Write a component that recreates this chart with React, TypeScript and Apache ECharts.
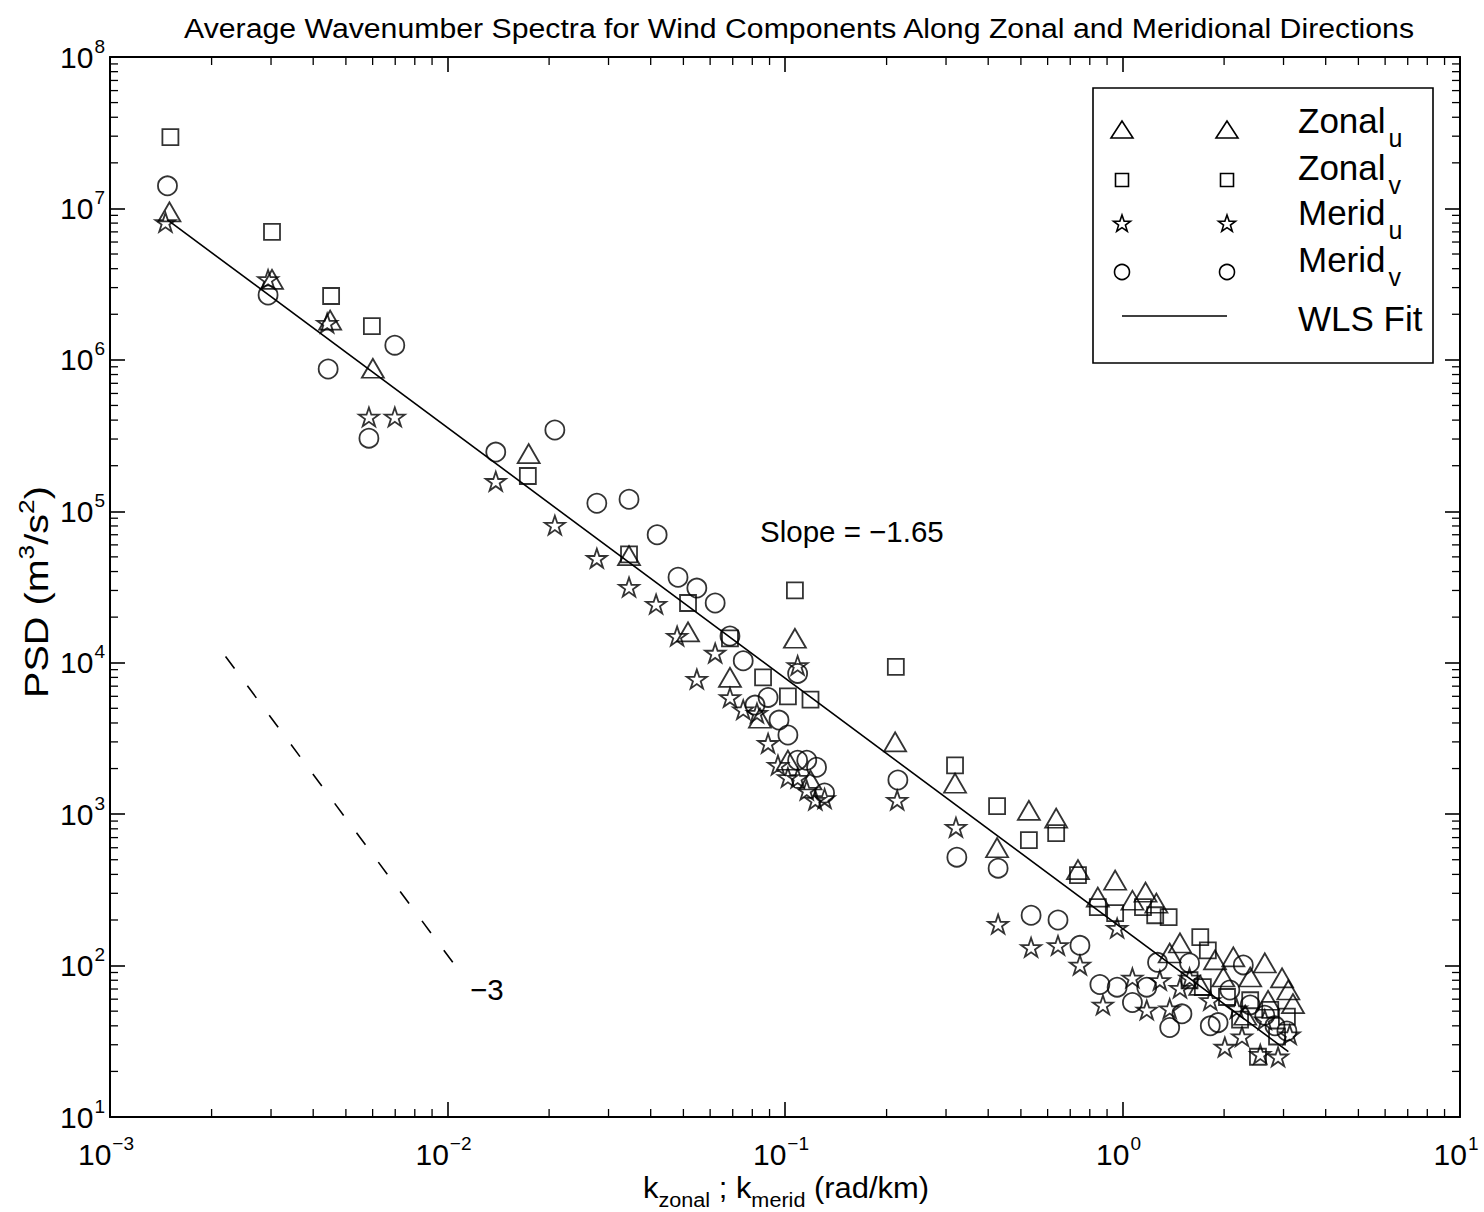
import React, { useEffect, useRef } from 'react';
import * as echarts from 'echarts';

const FONT = "'Liberation Sans', Arial, Helvetica, sans-serif";

// ---- data (k in rad/km, PSD in m^3/s^2) ----
const zonalU: number[][] = [
  [0.0015, 9.5e6], [0.00302, 3.4e6], [0.00449, 1.83e6], [0.00601, 8.8e5], [0.0174, 2.4e5],
  [0.0345, 5.1e4], [0.0516, 1.6e4], [0.0687, 8.0e3], [0.0843, 4.3e3], [0.107, 1.45e4],
  [0.102, 2.27e3], [0.119, 1.68e3], [0.212, 3.0e3], [0.319, 1.6e3], [0.425, 600],
  [0.528, 1060], [0.636, 940], [0.738, 430], [0.845, 283], [0.951, 366],
  [1.07, 270], [1.17, 305], [1.26, 258], [1.38, 121], [1.48, 141],
  [1.7, 74], [1.88, 109], [1.99, 84], [2.13, 114], [2.31, 47],
  [2.39, 84], [2.64, 104], [2.7, 59], [2.97, 83], [3.1, 69], [3.2, 56],
];
const zonalV: number[][] = [
  [0.00151, 2.96e7], [0.00302, 7.0e6], [0.00452, 2.64e6], [0.00597, 1.67e6], [0.0173, 1.71e5],
  [0.0345, 5.2e4], [0.0516, 2.48e4], [0.0687, 1.45e4], [0.0861, 8.0e3], [0.102, 6.0e3],
  [0.119, 5.7e3], [0.107, 3.0e4], [0.213, 9.4e3], [0.319, 2.1e3], [0.425, 1130],
  [0.528, 673], [0.636, 750], [0.738, 396], [0.845, 243], [0.951, 222],
  [1.15, 243], [1.25, 215], [1.37, 209], [1.58, 80], [1.7, 154],
  [1.73, 72], [1.79, 126], [2.04, 62], [2.23, 44], [2.39, 59],
  [2.52, 25], [2.74, 51], [2.87, 34], [3.07, 46],
];
const meridU: number[][] = [
  [0.00146, 8.1e6], [0.00294, 3.4e6], [0.0044, 1.75e6], [0.00585, 4.2e5], [0.00698, 4.2e5],
  [0.0139, 1.58e5], [0.0208, 8.1e4], [0.0277, 4.9e4], [0.0345, 3.16e4], [0.0415, 2.44e4],
  [0.0479, 1.5e4], [0.0548, 7.8e3], [0.0621, 1.16e4], [0.0687, 5.9e3], [0.0752, 4.9e3],
  [0.0826, 4.65e3], [0.0891, 2.94e3], [0.0953, 2.11e3], [0.102, 1.75e3], [0.109, 1.73e3],
  [0.116, 1.44e3], [0.123, 1.24e3], [0.131, 1.27e3], [0.109, 9.6e3], [0.215, 1.24e3],
  [0.321, 820], [0.428, 188], [0.536, 132], [0.644, 136], [0.748, 101],
  [0.875, 55], [0.964, 177], [1.07, 83], [1.18, 51], [1.29, 80],
  [1.38, 52], [1.48, 71], [1.58, 83], [1.82, 59], [2.01, 29],
  [2.18, 52], [2.26, 34], [2.56, 26], [2.64, 44], [2.89, 25], [3.13, 35],
];
const meridV: number[][] = [
  [0.00148, 1.41e7], [0.00294, 2.68e6], [0.00443, 8.7e5], [0.00585, 3.04e5], [0.00698, 1.25e6],
  [0.0139, 2.46e5], [0.0208, 3.44e5], [0.0277, 1.13e5], [0.0345, 1.2e5], [0.0418, 7.0e4],
  [0.0482, 3.67e4], [0.0548, 3.11e4], [0.0621, 2.48e4], [0.0687, 1.5e4], [0.0752, 1.03e4],
  [0.0815, 5.25e3], [0.0891, 5.9e3], [0.096, 4.18e3], [0.102, 3.33e3], [0.109, 2.27e3],
  [0.116, 2.27e3], [0.124, 2.04e3], [0.131, 1.38e3], [0.109, 8.5e3], [0.216, 1.68e3],
  [0.323, 520], [0.428, 440], [0.536, 215], [0.644, 200], [0.748, 136],
  [0.857, 75], [0.964, 72], [1.07, 57], [1.18, 72], [1.27, 105],
  [1.38, 39], [1.5, 48], [1.58, 104], [1.82, 40], [1.92, 42],
  [2.08, 69], [2.28, 101], [2.39, 55], [2.64, 47], [2.83, 40], [3.07, 37],
];
const wlsFit: number[][] = [[0.00148, 8.4e6], [3.1, 27]];
const refSlope: number[][] = [[0.0022, 1.1e4], [0.0104, 104]];

const xDecades = [-3, -2, -1, 0];
const yDecades = [1, 2, 3, 4, 5, 6, 7];
const minorMultipliers = [2, 3, 4, 5, 6, 7, 8, 9];

const titleText = 'Average Wavenumber Spectra for Wind Components Along Zonal and Meridional Directions';
const slopeText = 'Slope = −1.65';
const refSlopeText = '−3';

const STAR_PATH =
  'path://M50,0 L61.8,35.1 L98.9,35.1 L69,56.9 L80.3,91.9 L50,70.3 L19.7,91.9 L31,56.9 L1.1,35.1 L38.2,35.1 Z';

function starPoints(cx: number, cy: number, r: number) {
  const pts: number[][] = [];
  for (let i = 0; i < 10; i++) {
    const a = -Math.PI / 2 + (i * Math.PI) / 5;
    const rr = i % 2 === 0 ? r : r * 0.4;
    pts.push([cx + rr * Math.cos(a), cy + rr * Math.sin(a)]);
  }
  return pts;
}

function expLabel(v: number) {
  const e = Math.round(Math.log10(v));
  const s = e < 0 ? '−' + -e : String(e);
  return `{b|10}{e|${s}}`;
}

const tickRich = {
  b: { fontSize: 30, fontFamily: FONT, color: '#000' },
  e: { fontSize: 19, fontFamily: FONT, color: '#000', padding: [0, 0, 22, 1] },
};

function minorTickSeries(values: number[], dir: 'x' | 'y') {
  return {
    type: 'custom',
    silent: true,
    clip: false,
    z: 5,
    xAxisIndex: 0,
    yAxisIndex: 0,
    data: values.map((v) => (dir === 'x' ? [v, 100] : [0.01, v])),
    encode: { x: 0, y: 1 },
    renderItem: (params: any, api: any) => {
      const cs = params.coordSys;
      const p = api.coord([api.value(0), api.value(1)]);
      const st = { stroke: '#000', lineWidth: 1.3 };
      const L = 8;
      if (dir === 'x') {
        const x = p[0];
        return {
          type: 'group',
          children: [
            { type: 'line', shape: { x1: x, y1: cs.y + cs.height, x2: x, y2: cs.y + cs.height - L }, style: st },
            { type: 'line', shape: { x1: x, y1: cs.y, x2: x, y2: cs.y + L }, style: st },
          ],
        };
      }
      const y = p[1];
      return {
        type: 'group',
        children: [
          { type: 'line', shape: { x1: cs.x, y1: y, x2: cs.x + L, y2: y }, style: st },
          { type: 'line', shape: { x1: cs.x + cs.width, y1: y, x2: cs.x + cs.width - L, y2: y }, style: st },
        ],
      };
    },
  };
}

export default function App() {
  const ref = useRef<HTMLDivElement>(null);
  useEffect(() => {
    if (!ref.current) return;
    document.body.style.margin = '0';
    const chart = echarts.init(ref.current, null, { renderer: 'svg' });

    const xMinor: number[] = [];
    xDecades.forEach((d) => minorMultipliers.forEach((m) => xMinor.push(m * Math.pow(10, d))));
    const yMinor: number[] = [];
    yDecades.forEach((d) => minorMultipliers.forEach((m) => yMinor.push(m * Math.pow(10, d))));

    const axisLine = { show: true, onZero: false, lineStyle: { color: '#000', width: 2 } };
    const axisTick = { show: true, inside: true, length: 15, lineStyle: { color: '#000', width: 1.6 } };

    const marker = {
      color: 'rgba(0,0,0,0)',
      borderColor: '#000',
      borderWidth: 1.8,
    };

    // legend geometry
    const lx1 = 1122;
    const lx2 = 1227;
    const rows = [130, 180, 223, 272];
    const legendGraphics: any[] = [
      { type: 'rect', shape: { x: 1093, y: 88, width: 340, height: 275 }, style: { fill: '#fff', stroke: '#000', lineWidth: 1.6 }, z: 10 },
    ];
    [lx1, lx2].forEach((x) => {
      legendGraphics.push({ type: 'polygon', shape: { points: [[x, rows[0] - 9], [x - 11, rows[0] + 8], [x + 11, rows[0] + 8]] }, style: { fill: 'none', stroke: '#000', lineWidth: 1.6 }, z: 11 });
      legendGraphics.push({ type: 'rect', shape: { x: x - 6.5, y: rows[1] - 6.5, width: 13, height: 13 }, style: { fill: 'none', stroke: '#000', lineWidth: 1.6 }, z: 11 });
      legendGraphics.push({ type: 'polygon', shape: { points: starPoints(x, rows[2] + 1, 9) }, style: { fill: 'none', stroke: '#000', lineWidth: 1.6 }, z: 11 });
      legendGraphics.push({ type: 'circle', shape: { cx: x, cy: rows[3], r: 7.5 }, style: { fill: 'none', stroke: '#000', lineWidth: 1.6 }, z: 11 });
    });
    legendGraphics.push({ type: 'line', shape: { x1: lx1, y1: 316, x2: lx2, y2: 316 }, style: { stroke: '#000', lineWidth: 1.6 }, z: 11 });
    const legRich = {
      s: { fontSize: 25, fontFamily: FONT, color: '#000', padding: [36, 0, 0, 3] },
    };
    const legendLabels = [
      ['Zonal{s|u}', 120],
      ['Zonal{s|v}', 167],
      ['Merid{s|u}', 212],
      ['Merid{s|v}', 259],
      ['WLS Fit', 318],
    ];
    legendLabels.forEach(([t, y]) => {
      legendGraphics.push({
        type: 'text',
        x: 1298,
        y: y as number,
        z: 11,
        style: { text: t as string, fontSize: 35, fontFamily: FONT, fill: '#000', align: 'left', verticalAlign: 'middle', rich: legRich },
      });
    });

    chart.setOption({
      animation: false,
      backgroundColor: '#fff',
      grid: { left: 110, right: 24, top: 57, bottom: 95, containLabel: false, outerBoundsMode: 'none' },
      xAxis: [
        {
          type: 'log', logBase: 10, min: 0.001, max: 10, splitNumber: 4, position: 'bottom',
          axisLine, axisTick, splitLine: { show: false }, minorTick: { show: false },
          axisLabel: { show: true, margin: 17, formatter: expLabel, rich: tickRich, showMinLabel: true, showMaxLabel: true, hideOverlap: false, padding: [0, 8, 0, 0] },
        },
        {
          type: 'log', logBase: 10, min: 0.001, max: 10, splitNumber: 4, position: 'top',
          axisLine, axisTick, splitLine: { show: false }, axisLabel: { show: false },
        },
      ],
      yAxis: [
        {
          type: 'log', logBase: 10, min: 10, max: 1e8, splitNumber: 7, position: 'left',
          axisLine, axisTick, splitLine: { show: false },
          axisLabel: { show: true, margin: 5, formatter: expLabel, rich: tickRich, showMinLabel: true, showMaxLabel: true, hideOverlap: false },
        },
        {
          type: 'log', logBase: 10, min: 10, max: 1e8, splitNumber: 7, position: 'right',
          axisLine, axisTick, splitLine: { show: false }, axisLabel: { show: false },
        },
      ],
      series: [
        minorTickSeries(xMinor, 'x'),
        minorTickSeries(yMinor, 'y'),
        {
          name: 'WLS Fit', type: 'line', data: wlsFit, symbol: 'none', z: 3,
          lineStyle: { color: '#000', width: 1.6 },
        },
        {
          name: 'Slope -3', type: 'line', data: refSlope, symbol: 'none', z: 3,
          lineStyle: { color: '#000', width: 1.6, type: [15, 21.6] },
        },
        { name: 'Zonal u', type: 'scatter', data: zonalU, symbol: 'triangle', symbolSize: [22, 19], itemStyle: marker, z: 4 },
        { name: 'Zonal v', type: 'scatter', data: zonalV, symbol: 'rect', symbolSize: 16, itemStyle: marker, z: 4 },
        { name: 'Merid u', type: 'scatter', data: meridU, symbol: STAR_PATH, symbolKeepAspect: true, symbolSize: 20, itemStyle: marker, z: 4 },
        { name: 'Merid v', type: 'scatter', data: meridV, symbol: 'circle', symbolSize: 19, itemStyle: marker, z: 4 },
      ],
      graphic: [
        {
          type: 'text', x: 799, y: 29, scaleX: 1.12,
          style: { text: titleText, fontSize: 27, fontFamily: FONT, fill: '#000', align: 'center', verticalAlign: 'middle' },
        },
        {
          type: 'text', x: 37, y: 592, rotation: Math.PI / 2, scaleX: 1.2,
          style: {
            text: 'PSD (m{sup|3}/s{sup|2})', fontSize: 33, fontFamily: FONT, fill: '#000', align: 'center', verticalAlign: 'middle',
            rich: { sup: { fontSize: 22, fontFamily: FONT, color: '#000', padding: [0, 0, 22, 0] } },
          },
        },
        {
          type: 'text', x: 786, y: 1187, scaleX: 1.03,
          style: {
            text: 'k{sub|zonal} ; k{sub|merid} (rad/km)', fontSize: 30, fontFamily: FONT, fill: '#000', align: 'center', verticalAlign: 'middle',
            rich: { sub: { fontSize: 21, fontFamily: FONT, color: '#000', padding: [26, 0, 0, 0] } },
          },
        },
        {
          type: 'text', x: 760, y: 531,
          style: { text: slopeText, fontSize: 29.5, fontFamily: FONT, fill: '#000', align: 'left', verticalAlign: 'middle' },
        },
        {
          type: 'text', x: 470, y: 989,
          style: { text: refSlopeText, fontSize: 29.5, fontFamily: FONT, fill: '#000', align: 'left', verticalAlign: 'middle' },
        },
        ...legendGraphics,
      ],
    });
    return () => chart.dispose();
  }, []);
  return <div ref={ref} style={{ position: 'absolute', left: 0, top: 0, width: 1484, height: 1212 }} />;
}
